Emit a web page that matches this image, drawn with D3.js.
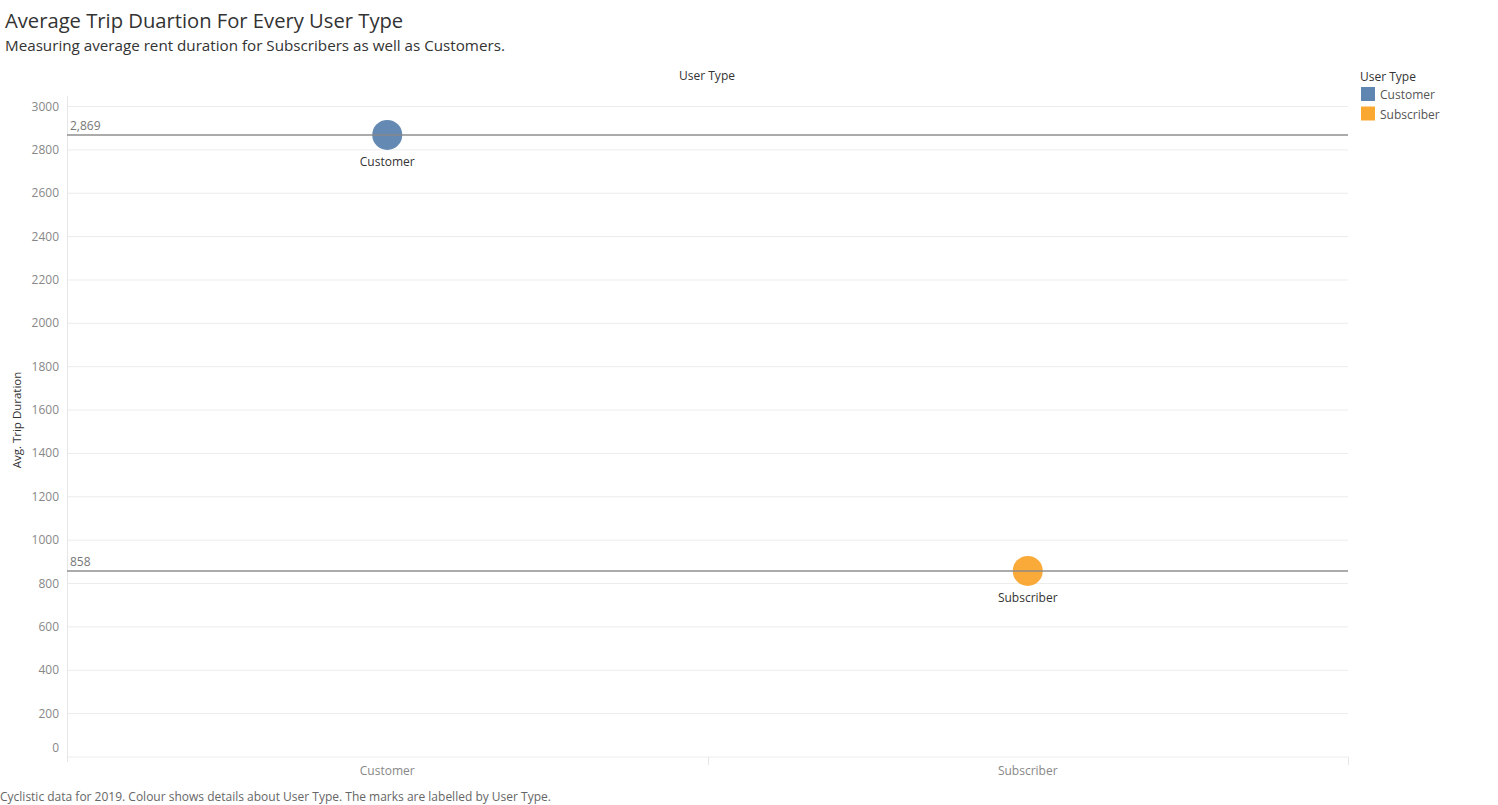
<!DOCTYPE html>
<html><head><meta charset="utf-8">
<script src="https://cdn.jsdelivr.net/npm/d3@7"></script>
<style>body{margin:0;background:#fff;}svg{display:block;font-family:"Open Sans","Noto Sans",sans-serif;}</style>
</head><body><svg id="c" width="1498" height="805"></svg>
<script>
const categories = ["Customer", "Subscriber"];
const avgDuration = [2869, 858];
const refLabels = ["2,869", "858"];
const colors = ["#4e79a7", "#f99e1c"];
const yTicks = [0, 200, 400, 600, 800, 1000, 1200, 1400, 1600, 1800, 2000, 2200, 2400, 2600, 2800, 3000];

const svg = d3.select("#c");
const L = 67, R = 1348, T = 96, B = 757;
const x = d3.scaleBand().domain(categories).range([L, R]);
const y = d3.scaleLinear().domain([0, 3000]).range([B, 106.5]);

svg.append("text").attr("x", 5).attr("y", 28).attr("font-size", 20.2).attr("fill", "#333").text("Average Trip Duartion For Every User Type");
svg.append("text").attr("x", 5).attr("y", 51).attr("font-size", 15.2).attr("fill", "#333").text("Measuring average rent duration for Subscribers as well as Customers.");
svg.append("text").attr("x", 707).attr("y", 80).attr("font-size", 12).attr("fill", "#333").attr("text-anchor", "middle").text("User Type");

// gridlines
svg.append("g").selectAll("line").data(yTicks).join("line")
  .attr("x1", L).attr("x2", R).attr("y1", d => y(d)).attr("y2", d => y(d))
  .attr("stroke", "#ececec").attr("stroke-width", 1);
// y tick labels
svg.append("g").selectAll("text").data(yTicks).join("text")
  .attr("x", 59).attr("y", d => d === 0 ? y(d) - 9 + 4 : y(d) + 4)
  .attr("text-anchor", "end").attr("font-size", 12).attr("fill", "#888").text(d => d);
// axis line
svg.append("line").attr("x1", L + 0.5).attr("x2", L + 0.5).attr("y1", 96).attr("y2", 762).attr("stroke", "#e6e6e6");
svg.append("line").attr("x1", 708.5).attr("x2", 708.5).attr("y1", 757).attr("y2", 765).attr("stroke", "#e6e6e6");
svg.append("line").attr("x1", R + 0.5).attr("x2", R + 0.5).attr("y1", 757).attr("y2", 765).attr("stroke", "#e6e6e6");

svg.append("text").attr("transform", "translate(21,420) rotate(-90)").attr("text-anchor", "middle")
  .attr("font-size", 11.5).attr("fill", "#333").text("Avg. Trip Duration");

// x labels
svg.append("g").selectAll("text").data(categories).join("text")
  .attr("x", d => x(d) + x.bandwidth() / 2).attr("y", 775).attr("text-anchor", "middle")
  .attr("font-size", 12).attr("fill", "#888").text(d => d);

// circles
svg.append("g").selectAll("circle").data(categories).join("circle")
  .attr("cx", d => x(d) + x.bandwidth() / 2).attr("cy", (d, i) => y(avgDuration[i]))
  .attr("r", 15).attr("fill", (d, i) => colors[i]).attr("fill-opacity", 0.88);

// reference lines
const ref = svg.append("g");
ref.selectAll("line").data(avgDuration).join("line")
  .attr("x1", L).attr("x2", R).attr("y1", d => y(d)).attr("y2", d => y(d))
  .attr("stroke", "#888").attr("stroke-opacity", 0.7).attr("stroke-width", 2);
ref.selectAll("text").data(avgDuration).join("text")
  .attr("x", 70).attr("y", d => y(d) - 5).attr("font-size", 12).attr("fill", "#777").text((d, i) => refLabels[i]);

// point labels
svg.append("g").selectAll("text").data(categories).join("text")
  .attr("x", d => x(d) + x.bandwidth() / 2).attr("y", (d, i) => y(avgDuration[i]) + 31)
  .attr("text-anchor", "middle").attr("font-size", 12).attr("fill", "#333").text(d => d);

// legend
const lg = svg.append("g");
lg.append("text").attr("x", 1360).attr("y", 81).attr("font-size", 12).attr("fill", "#333").text("User Type");
lg.selectAll("rect").data(categories).join("rect")
  .attr("x", 1361).attr("y", (d, i) => 87 + i * 19.5).attr("width", 14).attr("height", 14)
  .attr("fill", (d, i) => colors[i]).attr("fill-opacity", 0.9);
lg.selectAll("text.l").data(categories).join("text").attr("class", "l")
  .attr("x", 1380).attr("y", (d, i) => 99 + i * 19.5).attr("font-size", 12).attr("fill", "#555").text(d => d);

svg.append("text").attr("x", 0).attr("y", 801).attr("font-size", 12).attr("fill", "#666")
  .text("Cyclistic data for 2019. Colour shows details about User Type. The marks are labelled by User Type.");
</script></body></html>
